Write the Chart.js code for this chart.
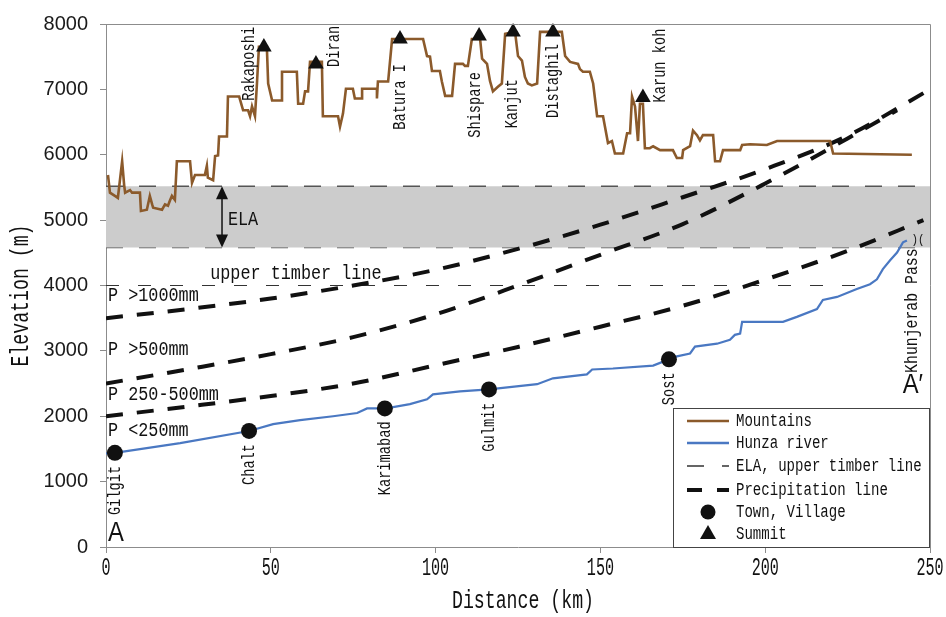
<!DOCTYPE html>
<html lang="en">
<head>
<meta charset="UTF-8">
<title>Hunza valley profile</title>
<script src="https://cdn.jsdelivr.net/npm/chart.js"></script>
<style>
  body { margin: 0; background: #fff; }
  #wrap { width: 946px; height: 617px; }
</style>
</head>
<body>
<div id="wrap"><canvas id="profile" width="946" height="617"></canvas></div>
<script>
// crest of the mountains along the section (km, m)
const mountainDist = [0.6, 1.2, 2.7, 3.6, 4.9, 5.5, 5.8, 7.3, 7.9, 10.3, 10.6, 12.4, 13.3, 14.0, 14.3, 17.0, 17.9, 18.8, 19.4, 20.0,
  20.9, 21.5, 25.5, 26.1, 27.0, 30.0, 30.6, 30.9, 32.5, 33.1, 34.0, 34.3, 36.7, 37.0, 40.4, 41.6, 43.1, 43.7, 44.3, 45.2,
  45.8, 46.4, 48.8, 49.2, 50.4, 53.4, 53.4, 57.9, 58.3, 59.8, 60.4, 61.3, 61.9, 65.5, 65.8, 70.4, 71.0, 71.9, 72.8, 74.9,
  75.5, 77.7, 77.7, 82.2, 82.2, 82.5, 85.6, 86.8, 96.2, 97.4, 98.3, 98.9, 101.3, 101.9, 102.9, 105.0, 105.9, 108.3, 108.9, 109.8,
  111.0, 113.5, 114.1, 115.6, 116.5, 117.4, 118.9, 120.1, 121.1, 124.1, 125.0, 126.2, 127.1, 128.0, 129.2, 130.8, 131.7, 138.3, 139.3, 140.8,
  143.2, 143.8, 144.7, 146.8, 147.8, 149.0, 150.8, 152.3, 153.5, 154.4, 156.9, 158.1, 159.0, 159.6, 160.5, 161.4, 162.0, 162.9, 163.5, 165.0,
  166.0, 168.1, 172.0, 173.2, 174.8, 175.1, 177.2, 178.1, 179.3, 180.2, 181.1, 184.2, 184.8, 186.3, 187.2, 192.4, 193.0, 195.4, 200.5, 203.6,
  219.7, 220.6, 244.5];
const mountainElev = [5690, 5420, 5370, 5340, 5900, 5540, 5420, 5460, 5420, 5420, 5140, 5160, 5370, 5240, 5190, 5160, 5240, 5220, 5300, 5370,
  5310, 5900, 5900, 5570, 5690, 5690, 5830, 5650, 5610, 5980, 5990, 6280, 6280, 6890, 6890, 6680, 6680, 6590, 6740, 6590,
  7090, 7650, 7650, 7090, 6830, 6830, 7270, 7270, 6780, 6780, 6970, 6970, 7420, 7420, 6590, 6590, 6430, 6630, 7010, 7010,
  6860, 6860, 7010, 7010, 6860, 7120, 7120, 7770, 7770, 7510, 7500, 7280, 7280, 7120, 6900, 6900, 7390, 7390, 7360, 7360,
  7770, 7770, 7470, 7390, 7130, 6970, 7040, 7090, 7850, 7880, 7510, 7440, 7190, 7090, 7060, 7090, 7880, 7880, 7510, 7420,
  7390, 7310, 7270, 7270, 7090, 6590, 6590, 6180, 6210, 6020, 6020, 6330, 6330, 6890, 6740, 6210, 6780, 6780, 6100, 6100,
  6130, 6070, 6070, 5950, 5950, 6070, 6130, 6370, 6300, 6220, 6300, 6300, 5900, 5900, 6070, 6070, 6150, 6160, 6150, 6210,
  6210, 6020, 6000];

// Hunza river bed (km, m)
const riverDist = [0, 2.7, 22.5, 43.4, 50.7, 58.9, 68.9, 76.2, 79.2, 84.6, 87.1, 92.2, 97.4, 99.2, 107.4, 116.2, 130.8, 135.6, 145.9, 147.5,
  153.8, 166.0, 170.8, 173.2, 177.2, 178.7, 185.4, 189.3, 190.8, 192.4, 193.0, 205.4, 209.6, 215.7, 217.5, 221.8, 227.8, 231.8, 233.9, 235.7,
  237.9, 240.0, 241.8, 243.0];
const riverElev = [1430, 1440, 1590, 1775, 1880, 1940, 2000, 2050, 2120, 2120, 2140, 2185, 2260, 2335, 2380, 2410, 2490, 2580, 2640, 2715,
  2730, 2775, 2870, 2915, 2960, 3065, 3110, 3170, 3245, 3265, 3445, 3445, 3520, 3640, 3780, 3825, 3945, 4020, 4095, 4250,
  4385, 4505, 4660, 4690];

// precipitation boundaries
const precipDistUpper = [0, 25, 50, 75, 100, 125, 150, 175, 200, 225, 250];
const precipUpper = [3500, 3640, 3800, 4000, 4240, 4560, 4930, 5350, 5780, 6290, 7000];
const precipDistMiddle = [0, 25, 50, 75, 100, 125, 150, 175, 200, 225, 240];
const precipMiddle = [2500, 2720, 2950, 3210, 3560, 4000, 4470, 4940, 5560, 6250, 6680];
const precipDistLower = [0, 25, 50, 75, 100, 125, 150, 175, 200, 225, 248];
const precipLower = [2000, 2150, 2310, 2500, 2780, 3060, 3370, 3690, 4090, 4530, 5000];
const precipZones = ['P >1000mm', 'P >500mm', 'P 250-500mm', 'P <250mm'];

// ELA band and upper timber line
const elaLow = 4580;
const elaHigh = 5520;
const timberLine = 4000;
const timberEnd = 230;

const townNames = ['Gilgit', 'Chalt', 'Karimabad', 'Gulmit', 'Sost'];
const townDist = [2.7, 43.4, 84.6, 116.2, 170.8];
const townElev = [1440, 1775, 2120, 2410, 2870];

const summitNames = ['Rakaposhi', 'Diran', 'Batura I', 'Shispare', 'Kanjut', 'Distaghil', 'Karun koh'];
const summitDist = [47.9, 63.7, 89.2, 113.2, 123.5, 135.6, 162.9];
const summitElev = [7650, 7390, 7770, 7815, 7876, 7876, 6874];

const distTicks = [0, 50, 100, 150, 200, 250];
const elevTicks = [0, 1000, 2000, 3000, 4000, 5000, 6000, 7000, 8000];

// where the annotation texts sit
const summitLabelShift = [[-15, -20], [18, -38], [0, 25], [-4, 36], [-1, 47], [0, 12], [17, -69]];
const zoneLabelElev = [3850, 3020, 2340, 1780];

const MONO = '"Liberation Mono", "DejaVu Sans Mono", monospace';
const INK = '#111';

function pts(xs, ys) {
  return xs.map((x, i) => ({ x: x, y: ys[i] }));
}

// condensed text: mono font squeezed horizontally
function drawText(ctx, text, x, y, o) {
  ctx.save();
  ctx.translate(x, y);
  if (o.rotate) ctx.rotate(-Math.PI / 2);
  ctx.scale(o.squeeze || 1, 1);
  ctx.font = (o.size || 19) + 'px ' + (o.family || MONO);
  ctx.fillStyle = o.color || INK;
  ctx.textAlign = o.align || 'left';
  ctx.textBaseline = 'middle';
  ctx.fillText(text, 0, 0);
  ctx.restore();
}

const profileDecor = {
  id: 'profileDecor',
  afterDatasetsDraw(chart) {
    const ctx = chart.ctx, a = chart.chartArea;
    const sx = chart.scales.x, sy = chart.scales.y;
    const X = v => sx.getPixelForValue(v), Y = v => sy.getPixelForValue(v);

    // frame on top and right
    ctx.save();
    ctx.strokeStyle = '#8c8c8c';
    ctx.lineWidth = 1;
    ctx.beginPath();
    ctx.moveTo(a.left, a.top + 0.5);
    ctx.lineTo(a.right + 0.5, a.top + 0.5);
    ctx.lineTo(a.right + 0.5, a.bottom);
    ctx.stroke();

    // ELA double arrow
    const ax = X(35.2), y1 = Y(elaHigh), y2 = Y(elaLow);
    ctx.strokeStyle = INK;
    ctx.fillStyle = INK;
    ctx.lineWidth = 1.5;
    ctx.beginPath();
    ctx.moveTo(ax, y1 + 10);
    ctx.lineTo(ax, y2 - 10);
    ctx.stroke();
    ctx.beginPath();
    ctx.moveTo(ax, y1); ctx.lineTo(ax - 6, y1 + 13); ctx.lineTo(ax + 6, y1 + 13);
    ctx.fill();
    ctx.beginPath();
    ctx.moveTo(ax, y2); ctx.lineTo(ax - 6, y2 - 13); ctx.lineTo(ax + 6, y2 - 13);
    ctx.fill();
    ctx.restore();

    drawText(ctx, 'ELA', X(37), Y(5010), { size: 21, squeeze: 0.8 });
    drawText(ctx, 'upper timber line', X(31.6), Y(4190), { size: 21, squeeze: 0.8 });
    precipZones.forEach((t, i) => drawText(ctx, t, a.left + 2, Y(zoneLabelElev[i]), { size: 21, squeeze: 0.8 }));

    townNames.forEach((t, i) => {
      drawText(ctx, t, X(townDist[i]), Y(townElev[i]) + 13, { size: 19, squeeze: 0.72, rotate: true, align: 'right' });
    });
    summitNames.forEach((t, i) => {
      const s = summitLabelShift[i];
      drawText(ctx, t, X(summitDist[i]) + s[0], Y(summitElev[i]) + s[1], { size: 19, squeeze: 0.72, rotate: true, align: 'right' });
    });

    // pass at the head of the river
    const ex = X(riverDist[riverDist.length - 1]), ey = Y(riverElev[riverElev.length - 1]);
    drawText(ctx, 'Khunjerab Pass', ex + 5, ey + 8, { size: 19, squeeze: 0.78, rotate: true, align: 'right' });
    drawText(ctx, ')(', ex + 11, ey - 1, { size: 12, squeeze: 0.9, align: 'center' });

    drawText(ctx, 'A', a.left + 2, Y(210), { size: 28, squeeze: 0.85, family: '"Liberation Sans", Arial, sans-serif' });
    drawText(ctx, 'A\u2032', X(244.8), Y(2470), { size: 28, squeeze: 0.85, align: 'center', family: '"Liberation Sans", Arial, sans-serif' });

    // axis labels and distance ticks
    sx.ticks.forEach(t => drawText(ctx, String(t.value), X(t.value), a.bottom + 21, { size: 26, squeeze: 0.58, align: 'center' }));
    drawText(ctx, 'Distance (km)', (a.left + a.right) / 2 + 5, a.bottom + 54, { size: 26, squeeze: 0.7, align: 'center' });
    drawText(ctx, 'Elevation (m)', 21, (a.top + a.bottom) / 2 + 10, { size: 26, squeeze: 0.7, align: 'center', rotate: true });
  },
  afterDraw(chart) {
    const ctx = chart.ctx, a = chart.chartArea;
    const L = a.right - 257, T = a.bottom - 139, W = 256, H = 139;
    ctx.save();
    ctx.fillStyle = '#fff';
    ctx.fillRect(L, T, W, H);
    ctx.strokeStyle = '#444';
    ctx.lineWidth = 1;
    ctx.strokeRect(L + 0.5, T + 0.5, W, H);

    const rows = [13, 35, 58, 82, 104, 126].map(v => T + v);
    const x0 = L + 14, x1 = L + 56, xm = (x0 + x1) / 2;
    const line = (y, color, w, dash) => {
      ctx.strokeStyle = color;
      ctx.lineWidth = w;
      ctx.setLineDash(dash);
      ctx.beginPath();
      ctx.moveTo(x0, y);
      ctx.lineTo(x1, y);
      ctx.stroke();
      ctx.setLineDash([]);
    };
    line(rows[0], '#8b5a2b', 2.6, []);
    line(rows[1], '#4a78c2', 2.4, []);
    line(rows[2], '#333', 1.5, [17, 18]);
    line(rows[3], INK, 4, [15, 15]);
    ctx.fillStyle = INK;
    ctx.beginPath();
    ctx.arc(xm, rows[4], 7.5, 0, Math.PI * 2);
    ctx.fill();
    ctx.beginPath();
    ctx.moveTo(xm, rows[5] - 9); ctx.lineTo(xm + 8, rows[5] + 5); ctx.lineTo(xm - 8, rows[5] + 5);
    ctx.fill();
    ctx.restore();

    const names = ['Mountains', 'Hunza river', 'ELA, upper timber line', 'Precipitation line', 'Town, Village', 'Summit'];
    names.forEach((t, i) => drawText(ctx, t, L + 63, rows[i], { size: 19, squeeze: 0.74 }));
  }
};

const lineBase = { pointRadius: 0, pointHoverRadius: 0, fill: false };

new Chart(document.getElementById('profile'), {
  type: 'line',
  data: {
    datasets: [
      Object.assign({}, lineBase, {
        data: pts(summitDist, summitElev), showLine: false, pointStyle: 'triangle', pointRadius: 9,
        pointBackgroundColor: INK, pointBorderWidth: 0, clip: false, order: 0
      }),
      Object.assign({}, lineBase, {
        data: pts(townDist, townElev), showLine: false, pointStyle: 'circle', pointRadius: 8,
        pointBackgroundColor: INK, pointBorderWidth: 0, clip: false, order: 0
      }),
      Object.assign({}, lineBase, { data: pts(mountainDist, mountainElev), borderColor: '#8b5a2b', borderWidth: 2.6, order: 1 }),
      Object.assign({}, lineBase, { data: pts(riverDist, riverElev), borderColor: '#4a78c2', borderWidth: 2.2, order: 2 }),
      Object.assign({}, lineBase, {
        data: pts(precipDistUpper, precipUpper), borderColor: INK, borderWidth: 4, borderDash: [17, 14],
        cubicInterpolationMode: 'monotone', order: 3
      }),
      Object.assign({}, lineBase, {
        data: pts(precipDistMiddle, precipMiddle), borderColor: INK, borderWidth: 4, borderDash: [17, 14],
        cubicInterpolationMode: 'monotone', order: 3
      }),
      Object.assign({}, lineBase, {
        data: pts(precipDistLower, precipLower), borderColor: INK, borderWidth: 4, borderDash: [17, 14],
        cubicInterpolationMode: 'monotone', order: 3
      }),
      Object.assign({}, lineBase, {
        data: pts([0, timberEnd], [timberLine, timberLine]), borderColor: '#333', borderWidth: 1.2, borderDash: [13, 19], order: 4
      }),
      Object.assign({}, lineBase, {
        data: pts([0, 250], [elaHigh, elaHigh]), borderColor: '#555', borderWidth: 1.5, borderDash: [17, 16],
        backgroundColor: '#cccccc', fill: { value: elaLow }, order: 5
      }),
      Object.assign({}, lineBase, {
        data: pts([0, 250], [elaLow, elaLow]), borderColor: '#555', borderWidth: 1.5, borderDash: [17, 16], order: 5
      })
    ]
  },
  options: {
    responsive: false,
    animation: false,
    devicePixelRatio: 1,
    layout: { padding: { top: 20, right: 16, left: 0, bottom: 0 } },
    plugins: { legend: { display: false }, tooltip: { enabled: false } },
    scales: {
      x: {
        type: 'linear', min: 0, max: 250,
        afterBuildTicks: s => { s.ticks = distTicks.map(v => ({ value: v })); },
        afterFit: s => { s.height = 70; },
        ticks: { display: false },
        grid: { drawOnChartArea: false, tickLength: 6, color: '#8c8c8c' },
        border: { color: '#8c8c8c' }
      },
      y: {
        min: 0, max: 8000,
        afterBuildTicks: s => { s.ticks = elevTicks.map(v => ({ value: v })); },
        afterFit: s => { s.width = 106; },
        ticks: {
          font: { family: '"Liberation Sans", Arial, sans-serif', size: 20 }, color: '#1a1a1a', padding: 12,
          callback: v => String(v)
        },
        grid: { drawOnChartArea: false, tickLength: 6, color: '#8c8c8c' },
        border: { color: '#8c8c8c' }
      }
    }
  },
  plugins: [profileDecor]
});
</script>
</body>
</html>
